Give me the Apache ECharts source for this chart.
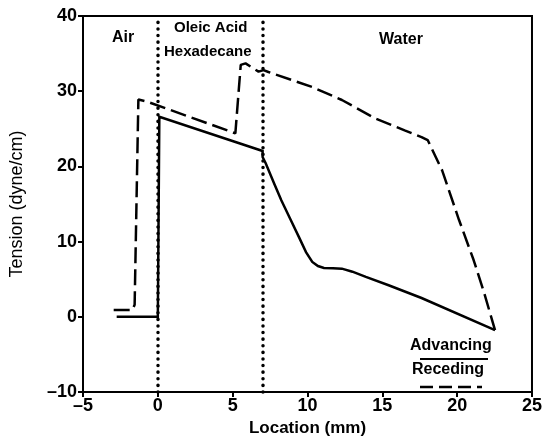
<!DOCTYPE html>
<html>
<head>
<meta charset="utf-8">
<script src="https://cdn.jsdelivr.net/npm/echarts@6/dist/echarts.min.js"></script>
<style>
html,body{margin:0;padding:0;background:#fff;}
#c{width:545px;height:447px;}
</style>
</head>
<body>
<div id="c"></div>
<script>
// Data (Location in mm, Tension in dyne/cm)
var xTicks = [-5, 0, 5, 10, 15, 20, 25];
var yTicks = [-10, 0, 10, 20, 30, 40];
var advancingX = [-2.75, 0, 0.1, 7.0, 7.0, 7.2, 7.8, 8.25, 8.85, 9.43, 9.9, 10.32, 10.7, 11.1, 11.7, 12.3, 13.0, 13.9, 15.42, 17.62, 22.53];
var advancingY = [0, 0, 26.6, 22.05, 21.25, 20.45, 17.6, 15.5, 13.0, 10.6, 8.6, 7.3, 6.75, 6.5, 6.45, 6.4, 6.0, 5.3, 4.2, 2.5, -1.76];
var recedingX = [-2.95, -1.7, -1.55, -1.3, -0.7, 5.18, 5.54, 5.86, 6.73, 7.06, 7.39, 10.31, 12.3, 14.51, 16.49, 17.62, 18.03, 18.99, 20.12, 21.1, 21.8, 22.53];
var recedingY = [0.9, 0.9, 1.6, 28.9, 28.6, 24.4, 33.5, 33.7, 32.6, 32.8, 32.55, 30.56, 28.83, 26.4, 24.8, 23.9, 23.5, 19.5, 12.9, 7.55, 3.2, -1.76];
var boundaries = [0, 7];
var regionLabels = ['Air', 'Oleic Acid', 'Hexadecane', 'Water'];

function pairs(xs, ys) { return xs.map(function (x, i) { return [x, ys[i]]; }); }

var font = 'Liberation Sans, Arial, sans-serif';
var chart = echarts.init(document.getElementById('c'), null, {renderer: 'canvas'});
chart.setOption({
  animation: false,
  backgroundColor: '#fff',
  grid: {left: 81, right: 8, top: 16, bottom: 55, show: true, borderColor: '#000', borderWidth: 2, backgroundColor: 'transparent'},
  xAxis: {
    type: 'value', min: xTicks[0], max: xTicks[xTicks.length - 1], interval: 5,
    name: 'Location (mm)', nameLocation: 'middle', nameGap: 27,
    nameTextStyle: {fontFamily: font, fontSize: 17, fontWeight: 'bold', color: '#000'},
    axisLine: {onZero: false, lineStyle: {color: '#000', width: 2}},
    axisTick: {inside: false, length: 5, lineStyle: {color: '#000', width: 2}},
    axisLabel: {fontFamily: font, fontSize: 18, fontWeight: 'bold', color: '#000', margin: 5,
      formatter: function (v) { return String(v).replace('-', '\u2013'); }},
    splitLine: {show: false}
  },
  yAxis: {
    type: 'value', min: yTicks[0], max: yTicks[yTicks.length - 1], interval: 10,
    name: 'Tension (dyne/cm)', nameLocation: 'middle', nameGap: 57, nameRotate: 90,
    nameTextStyle: {fontFamily: font, fontSize: 18, color: '#000'},
    axisLine: {onZero: false, lineStyle: {color: '#000', width: 2}},
    axisTick: {inside: false, length: 5, lineStyle: {color: '#000', width: 2}},
    axisLabel: {fontFamily: font, fontSize: 18, fontWeight: 'bold', color: '#000', margin: 6,
      formatter: function (v) { return String(v).replace('-', '\u2013'); }},
    splitLine: {show: false}
  },
  series: [
    {
      name: 'Advancing', type: 'line', data: pairs(advancingX, advancingY),
      showSymbol: false, symbol: 'none',
      lineStyle: {color: '#000', width: 2.5, join: 'miter'},
      markLine: {
        silent: true, symbol: 'none', label: {show: false},
        lineStyle: {color: '#000', width: 3.5, type: [0.1, 6.5], cap: 'round'},
        data: boundaries.map(function (b) { return {xAxis: b}; })
      }
    },
    {
      name: 'Receding', type: 'line', data: pairs(recedingX, recedingY),
      showSymbol: false, symbol: 'none',
      lineStyle: {color: '#000', width: 2.5, type: [16, 6]}
    }
  ],
  graphic: [
    {type: 'text', left: 112, top: 30, style: {text: regionLabels[0], font: 'bold 16px ' + font, fill: '#000'}},
    {type: 'text', left: 174, top: 20, style: {text: regionLabels[1], font: 'bold 15px ' + font, fill: '#000'}},
    {type: 'text', left: 164, top: 44, style: {text: regionLabels[2], font: 'bold 15px ' + font, fill: '#000'}},
    {type: 'text', left: 379, top: 32, style: {text: regionLabels[3], font: 'bold 16px ' + font, fill: '#000'}},
    {type: 'text', left: 410, top: 338, style: {text: 'Advancing', font: 'bold 16px ' + font, fill: '#000'}},
    {type: 'line', shape: {x1: 420, y1: 359, x2: 488, y2: 359}, style: {stroke: '#000', lineWidth: 2}},
    {type: 'text', left: 412, top: 362, style: {text: 'Receding', font: 'bold 16px ' + font, fill: '#000'}},
    {type: 'line', shape: {x1: 420, y1: 387, x2: 482, y2: 387}, style: {stroke: '#000', lineWidth: 2.5, lineDash: [13, 6]}}
  ]
});
</script>
</body>
</html>
